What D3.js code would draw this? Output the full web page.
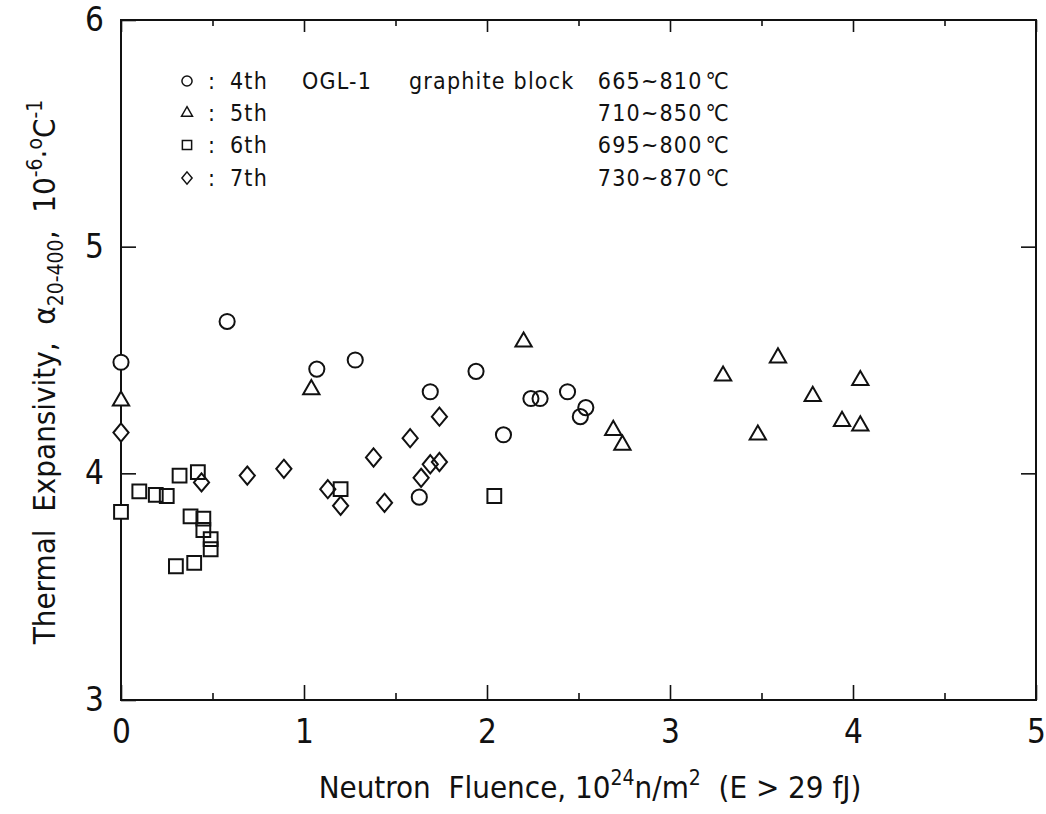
<!DOCTYPE html>
<html>
<head>
  <meta charset="utf-8">
  <title>Thermal Expansivity vs Neutron Fluence</title>
  <style>
    body { margin: 0; background: #fff; }
    svg text {
      font-family: "Liberation Sans Narrow", "DejaVu Sans Condensed", "Roboto Condensed", "DejaVu Sans", sans-serif;
      fill: #111;
      white-space: pre;
    }
    .frame { fill: none; stroke: #111; stroke-width: 2px; }
    .tick line { stroke: #111; stroke-width: 1.6px; }
    .domain { display: none; }
    .mark { stroke: #111; stroke-width: 2px; }
  </style>
</head>
<body>
  <div id="chart"></div>
  <script src="https://d3js.org/d3.v7.min.js"></script>
  <script>
    // values: [fluence, alpha]
    const run4th = [[0, 4.49], [0.58, 4.67], [1.07, 4.46], [1.28, 4.50], [1.63, 3.895], [1.69, 4.36],
                    [1.94, 4.45], [2.09, 4.17], [2.24, 4.33], [2.29, 4.33], [2.44, 4.36], [2.51, 4.25], [2.54, 4.29]];
    const run5th = [[0, 4.32], [1.04, 4.37], [2.20, 4.58], [2.69, 4.19], [2.74, 4.125], [3.29, 4.43],
                    [3.48, 4.17], [3.59, 4.51], [3.78, 4.34], [3.94, 4.23], [4.04, 4.41], [4.04, 4.21]];
    const run6th = [[0, 3.83], [0.10, 3.92], [0.19, 3.905], [0.25, 3.90], [0.30, 3.59], [0.32, 3.99],
                    [0.38, 3.81], [0.40, 3.605], [0.42, 4.005], [0.45, 3.80], [0.45, 3.75], [0.49, 3.71],
                    [0.49, 3.665], [1.20, 3.93], [2.04, 3.90]];
    const run7th = [[0, 4.18], [0.44, 3.96], [0.69, 3.99], [0.89, 4.02], [1.13, 3.93], [1.20, 3.857],
                    [1.38, 4.07], [1.44, 3.87], [1.58, 4.155], [1.64, 3.98], [1.69, 4.04], [1.74, 4.05], [1.74, 4.25]];

    const runNames = ["4th", "5th", "6th", "7th"];
    const tempRanges = ["665~810", "710~850", "695~800", "730~870"];
    const xTicks = [0, 1, 2, 3, 4, 5];
    const xMinorTicks = [0.5, 1.5, 2.5, 3.5, 4.5];
    const yTicks = [3, 4, 5, 6];

    const width = 1046, height = 814;
    const plotLeft = 121, plotRight = 1036, plotTop = 20, plotBottom = 700;

    const x = d3.scaleLinear().domain([0, 5]).range([plotLeft, plotRight]);
    const y = d3.scaleLinear().domain([3, 6]).range([plotBottom, plotTop]);

    const svg = d3.select("#chart").append("svg")
                  .attr("width", width)
                  .attr("height", height);

    // diamond a bit taller than wide, like the plotter glyph
    const diamond = {
      draw(ctx, size) {
        const w = Math.sqrt(size) * 0.62, h = w * 1.2;
        ctx.moveTo(0, -h); ctx.lineTo(w, 0); ctx.lineTo(0, h); ctx.lineTo(-w, 0); ctx.closePath();
      }
    };

    const series = [
      { data: run4th, type: d3.symbolCircle, size: 180 },
      { data: run5th, type: d3.symbolTriangle, size: 115 },
      { data: run6th, type: d3.symbolSquare, size: 190 },
      { data: run7th, type: diamond, size: 150 }
    ];

    // axes, ticks pointing inward
    svg.append("g")
       .attr("transform", `translate(0,${plotBottom})`)
       .call(d3.axisBottom(x).tickValues(xTicks).tickSizeInner(-15).tickSizeOuter(0).tickPadding(20)
               .tickFormat(d3.format("d")))
       .call(g => g.selectAll("text").style("font-size", "33px"));

    svg.append("g")
       .attr("transform", `translate(0,${plotBottom})`)
       .call(d3.axisBottom(x).tickValues(xMinorTicks).tickSizeInner(-7).tickSizeOuter(0).tickFormat(""));

    svg.append("g")
       .attr("transform", `translate(0,${plotTop})`)
       .call(d3.axisTop(x).tickValues(xTicks.concat(xMinorTicks)).tickSizeInner(-12).tickSizeOuter(0).tickFormat(""))
       .call(g => g.selectAll(".tick line").filter(d => d % 1 !== 0).attr("y2", 6));

    svg.append("g")
       .attr("transform", `translate(${plotLeft},0)`)
       .call(d3.axisLeft(y).tickValues(yTicks).tickSizeInner(-15).tickSizeOuter(0).tickPadding(17)
               .tickFormat(d3.format("d")))
       .call(g => g.selectAll("text").style("font-size", "33px"));

    svg.append("g")
       .attr("transform", `translate(${plotRight},0)`)
       .call(d3.axisRight(y).tickValues([4, 5]).tickSizeInner(-15).tickSizeOuter(0).tickFormat(""));

    svg.append("rect")
       .attr("class", "frame")
       .attr("x", plotLeft).attr("y", plotTop)
       .attr("width", plotRight - plotLeft).attr("height", plotBottom - plotTop);

    // data marks
    series.forEach(s => {
      svg.append("g").selectAll("path")
         .data(s.data)
         .join("path")
         .attr("class", "mark")
         .attr("transform", d => `translate(${x(d[0])},${y(d[1])})`)
         .attr("d", d3.symbol().type(s.type).size(s.size))
         .attr("fill", d => d[0] === 0 ? "#fff" : "none");
    });

    // legend
    const legendY = [81, 113, 145, 178];
    const legend = svg.append("g").style("font-size", "23px").style("letter-spacing", "1.2px");
    series.forEach((s, i) => {
      const ly = legendY[i];
      legend.append("path")
            .attr("transform", `translate(187,${ly})`)
            .attr("d", d3.symbol().type(s.type).size(s.size * 0.45))
            .attr("fill", "none").attr("stroke", "#111").attr("stroke-width", 1.5);
      legend.append("text").attr("x", 208).attr("y", ly + 8).text(":");
      legend.append("text").attr("x", 230).attr("y", ly + 8).text(runNames[i]);
      const t = legend.append("text").attr("x", 730).attr("y", ly + 8).attr("text-anchor", "end");
      t.append("tspan").text(tempRanges[i]);
      t.append("tspan").attr("dx", 3).text("℃");
    });
    legend.append("text").attr("x", 302).attr("y", legendY[0] + 8).text("OGL-1");
    legend.append("text").attr("x", 409).attr("y", legendY[0] + 8).text("graphite block");

    // x title
    const xt = svg.append("text")
                  .attr("x", 590).attr("y", 798)
                  .attr("text-anchor", "middle")
                  .style("font-size", "31px");
    xt.append("tspan").text("Neutron  Fluence, 10");
    xt.append("tspan").attr("dy", -13).style("font-size", "21px").text("24");
    xt.append("tspan").attr("dy", 13).text("n/m");
    xt.append("tspan").attr("dy", -13).style("font-size", "21px").text("2");
    xt.append("tspan").attr("dy", 13).text("  (E > 29 fJ)");

    // y title
    const yt = svg.append("text")
                  .attr("transform", "translate(55,372) rotate(-90)")
                  .attr("text-anchor", "middle")
                  .style("font-size", "31px");
    yt.append("tspan").text("Thermal  Expansivity,  α");
    yt.append("tspan").attr("dy", 8).style("font-size", "21px").text("20-400");
    yt.append("tspan").attr("dy", -8).text(",  10");
    yt.append("tspan").attr("dy", -13).style("font-size", "21px").text("-6");
    yt.append("tspan").attr("dy", 13).text("·");
    yt.append("tspan").attr("dy", -13).style("font-size", "21px").text("o");
    yt.append("tspan").attr("dy", 13).text("C");
    yt.append("tspan").attr("dy", -13).style("font-size", "21px").text("-1");
  </script>
</body>
</html>
